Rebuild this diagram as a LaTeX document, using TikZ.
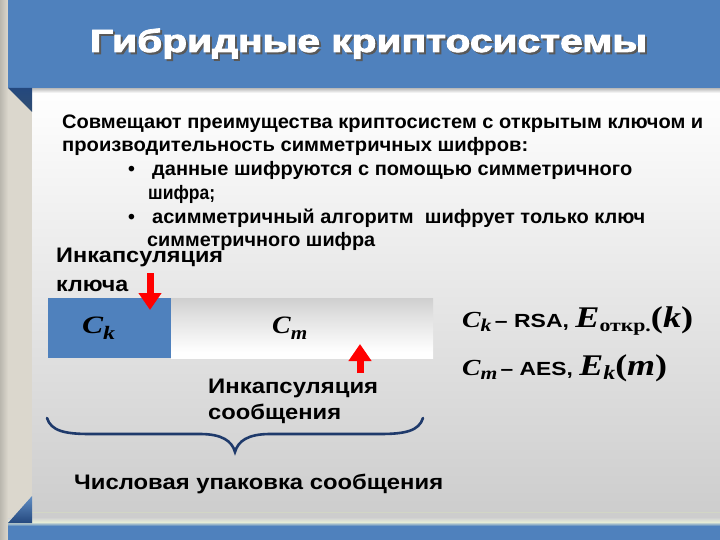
\documentclass[tikz,border=0pt]{standalone}
\usepackage{fontspec}
\setmainfont{Liberation Sans}
\newfontfamily\tms{Liberation Serif}
\usetikzlibrary{arrows.meta}
\definecolor{slideblue}{HTML}{4F81BD}
\definecolor{folddark}{HTML}{24487E}
\definecolor{bracecol}{HTML}{1F3A6B}
\definecolor{beigec}{HTML}{DBD7CD}
\definecolor{creamc}{HTML}{E6ECD6}
\newcommand\fitw[2]{\resizebox{#1pt}{\height}{#2}}
\newcommand\bimath{\tms\bfseries\itshape}
\newcommand\bupmath{\tms\bfseries\upshape}
\pgfdeclareverticalshading{cylshade}{100bp}{color(0bp)=(gray!50); color(10bp)=(white); color(30bp)=(white); color(62bp)=(gray!25); color(100bp)=(gray!62)}
\begin{document}
\begin{tikzpicture}[x=1pt,y=-1pt,
  txt/.style={anchor=base west, inner sep=0pt, font=\bfseries\fontsize{19.5}{19.5}\selectfont},
  lbl/.style={anchor=base west, inner sep=0pt, font=\bfseries\fontsize{21}{21}\selectfont},
  mth/.style={anchor=base west, inner sep=0pt},
  redarrow/.style={draw=red, line width=7pt, -{Triangle[width=22pt,length=17pt]}},
  bracestyle/.style={draw=bracecol, line width=2.6pt, line cap=round}]
\useasboundingbox (0,0) rectangle (720,540);
% left strip
\fill[beigec] (0,0) rectangle (32,540);
\shade[left color=beigec!85!black, right color=beigec] (0,0) rectangle (8,540);
% content panel
\shade[top color=white, bottom color=gray!40] (32,88) rectangle (720,522);
\shade[top color=gray!55, bottom color=white] (32,88) rectangle (720,93);
% title band
\fill[slideblue] (8,0) rectangle (720,88);
\shade[top color=folddark, bottom color=slideblue!60!black] (8,88) -- (32,88) -- (32,112) -- cycle;
% bottom band
\draw[creamc!80!gray, line width=0.8pt] (32,512) -- (720,512);
\shade[top color=gray!35, bottom color=creamc] (8,518) rectangle (720,522);
\shade[top color=creamc, bottom color=slideblue] (8,522) rectangle (720,526);
\fill[slideblue] (8,526) rectangle (720,540);
\shade[top color=slideblue!90!white, bottom color=folddark] (8,523) -- (32,496) -- (32,523) -- cycle;
% title
\node[anchor=base, inner sep=0pt, text=black!65, font=\bfseries\fontsize{32}{32}\selectfont\addfontfeature{FakeBold=2.5}] (titleshadow) at (370.5,54) {\fitw{557}{Гибридные криптосистемы}};
\node[anchor=base, inner sep=0pt, text=white, font=\bfseries\fontsize{32}{32}\selectfont\addfontfeature{FakeBold=2.5}] (title) at (368.5,52) {\fitw{557}{Гибридные криптосистемы}};
% body text
\node[txt] (l1) at (62,129) {\fitw{641}{Совмещают преимущества криптосистем с открытым ключом и}};
\node[txt] (l2) at (62,152) {\fitw{466}{производительность симметричных шифров:}};
\node[txt] (b1) at (128,176) {•};
\node[txt] (l3) at (152,176) {\fitw{480}{данные шифруются с помощью симметричного}};
\node[txt] (l4) at (148,200) {\fitw{67}{шифра;}};
\node[txt] (b2) at (128,224) {•};
\node[txt] (l5) at (152,224) {\fitw{493}{асимметричный алгоритм\ \ шифрует только ключ}};
\node[txt] (l6) at (147,247) {\fitw{228}{симметричного шифра}};
% labels
\node[lbl] (enc1) at (56,262) {\fitw{167}{Инкапсуляция}};
\node[lbl] (enc1b) at (56,291) {\fitw{72}{ключа}};
% boxes
\node[fill=slideblue, minimum width=123pt, minimum height=60pt, anchor=north west, inner sep=0pt] (ckbox) at (48,298) {};
\node[shading=cylshade, minimum width=262pt, minimum height=60pt, anchor=north west, inner sep=0pt] (cmbox) at (171,298) {};
\node[mth] (cktxt) at (82,333) {\fitw{33}{\fontsize{25}{25}\bimath C\raisebox{-6pt}{\fontsize{19}{19}\bimath k}}};
\node[mth] (cmtxt) at (272,333) {\fitw{35}{\fontsize{25}{25}\bimath C\raisebox{-6pt}{\fontsize{19}{19}\bimath m}}};
% arrows
\coordinate (katail) at (150,273);
\coordinate (katip) at (150,310);
\draw[redarrow] (katail) -- (katip);
\coordinate (matail) at (360,373);
\coordinate (matip) at (360,344);
\draw[redarrow] (matail) -- (matip);
% message label
\node[lbl] (enc2) at (208,393) {\fitw{170}{Инкапсуляция}};
\node[lbl] (enc2b) at (208,419) {\fitw{133}{сообщения}};
% brace
\draw[bracestyle] (47,418) .. controls (51,431) and (65,434) .. (90,434) -- (200,434) .. controls (222,434) and (232,441) .. (235,452) .. controls (238,441) and (248,434) .. (270,434) -- (380,434) .. controls (405,434) and (419,431) .. (423,418);
\node[lbl] (pack) at (74,489) {\fitw{369}{Числовая упаковка сообщения}};
% right formulas
\node[mth] (rsa) at (462,327) {\fitw{231}{{\fontsize{23}{23}\bimath C\raisebox{-4pt}{\fontsize{18}{18}\bimath k}}\ {\fontsize{19}{19}\bfseries – RSA, }{\fontsize{30}{30}\bimath E\raisebox{-4pt}{\fontsize{18}{18}\bupmath откр.}{\bupmath(}k{\bupmath)}}}};
\node[mth] (aes) at (462,375) {\fitw{205}{{\fontsize{23}{23}\bimath C\raisebox{-4pt}{\fontsize{18}{18}\bimath m}}\ {\fontsize{19}{19}\bfseries – AES, }{\fontsize{30}{30}\bimath E\raisebox{-4pt}{\fontsize{20}{20}\bimath k}{\bupmath(}m{\bupmath)}}}};
\end{tikzpicture}
\end{document}
